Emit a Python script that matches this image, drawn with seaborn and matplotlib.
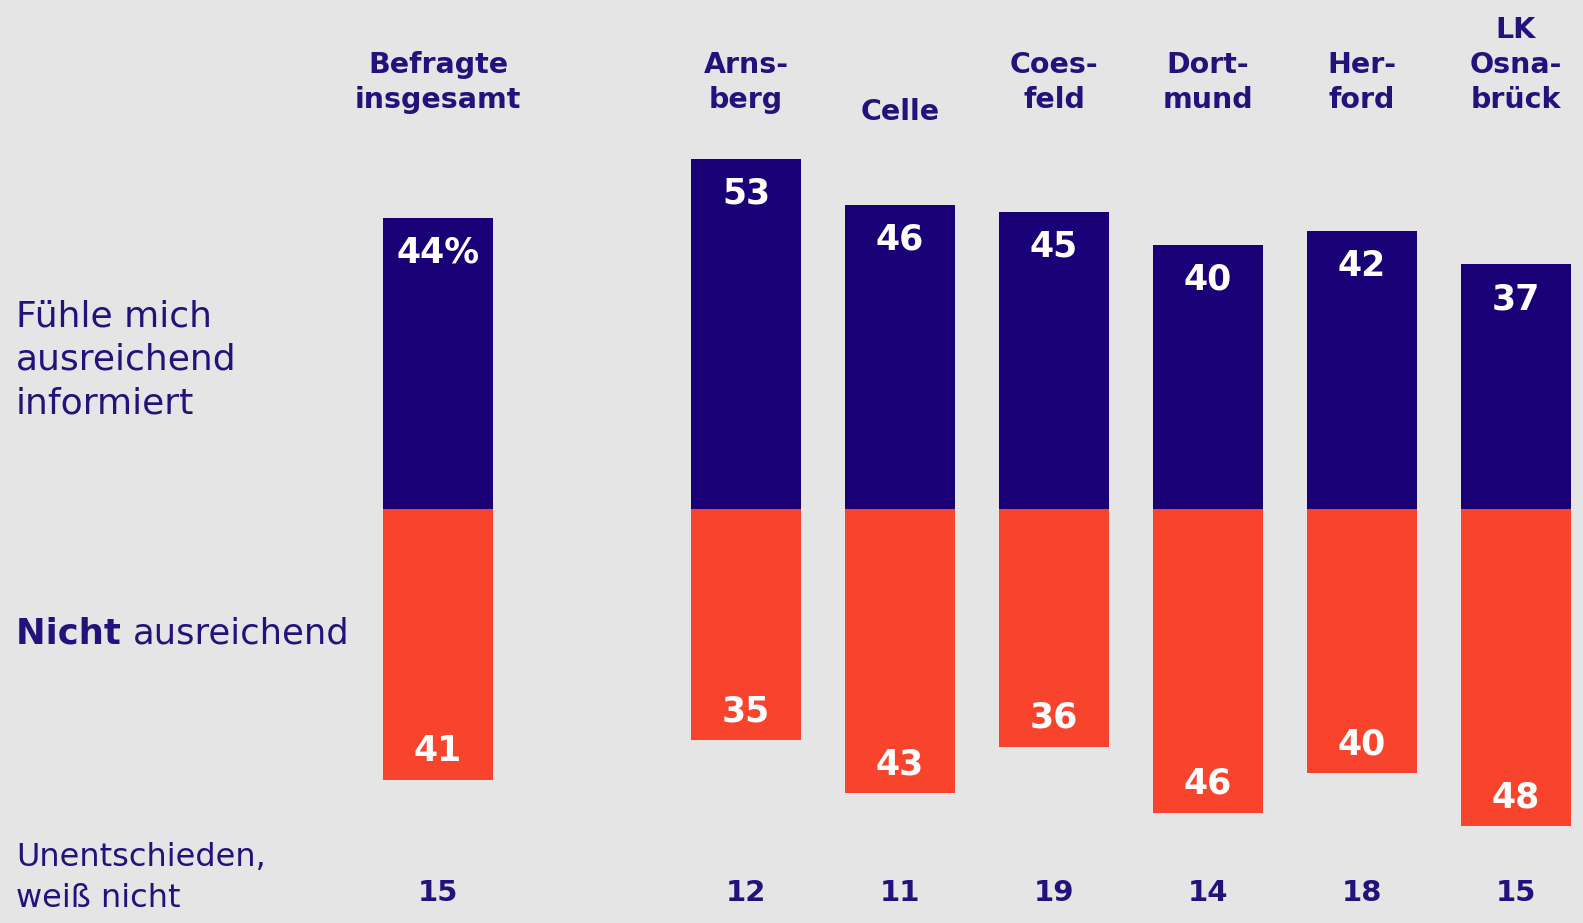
import matplotlib
matplotlib.use("Agg")
import matplotlib.pyplot as plt
import matplotlib.transforms as mtransforms
import seaborn as sns

# Data
regions = ["Befragte\ninsgesamt", "Arns-\nberg", "Celle", "Coes-\nfeld",
           "Dort-\nmund", "Her-\nford", "LK\nOsna-\nbrück"]
informed = [44, 53, 46, 45, 40, 42, 37]
not_informed = [41, 35, 43, 36, 46, 40, 48]
undecided = [15, 12, 11, 19, 14, 18, 15]
informed_labels = ["44%", "53", "46", "45", "40", "42", "37"]

# layout: gap after the total column
x_pos = [0] + list(range(2, 2 + len(regions) - 1))

navy = "#1a0076"
red = "#f8432d"
bg = "#e5e5e5"
text_navy = "#24127c"

sns.set_style("white")
plt.rcParams["font.family"] = ["DejaVu Sans"]

fig = plt.figure(figsize=(15.83, 9.23), dpi=100, facecolor=bg)
ax = fig.add_axes([0, 0, 1, 1])
ax.set_facecolor(bg)

sns.barplot(x=x_pos, y=informed, native_scale=True, width=0.72, color=navy,
            saturation=1, errorbar=None, linewidth=0, ax=ax)
sns.barplot(x=x_pos, y=[-v for v in not_informed], native_scale=True, width=0.72,
            color=red, saturation=1, errorbar=None, linewidth=0, ax=ax)

ax.set_xlim(-438 / 154, (1583 - 438) / 154)
ax.set_ylim(-(923 - 509) / 6.61, 509 / 6.61)
ax.axis("off")

trans = mtransforms.blended_transform_factory(ax.transData, ax.transAxes)

for x, name, inf, lab, ninf, und in zip(x_pos, regions, informed, informed_labels,
                                        not_informed, undecided):
    # value labels inside bars
    ax.annotate(lab, xy=(x, inf), xytext=(0, -25), textcoords="offset points",
                ha="center", va="center", color="white", fontsize=25, fontweight="bold")
    ax.annotate(str(ninf), xy=(x, -ninf), xytext=(0, 21), textcoords="offset points",
                ha="center", va="center", color="white", fontsize=25, fontweight="bold")
    # region names on top
    y_top = 0.864 if "\n" not in name else 0.876
    ax.text(x, y_top, name, transform=trans, ha="center", va="bottom",
            color=text_navy, fontsize=20.5, fontweight="bold", linespacing=1.33)
    # undecided row
    ax.text(x, 0.032, str(und), transform=trans, ha="center", va="center",
            color=text_navy, fontsize=21, fontweight="bold")

# left side labels
ax.text(0.010, 0.61, "Fühle mich\nausreichend\ninformiert", transform=ax.transAxes,
        ha="left", va="center", color=text_navy, fontsize=26, linespacing=1.36)
t1 = ax.text(0.010, 0.314, "Nicht ", transform=ax.transAxes, ha="left",
             va="center", color=text_navy, fontsize=25.5, fontweight="bold")
ax.annotate("ausreichend", xy=(1, 0.5), xycoords=t1, ha="left", va="center",
            color=text_navy, fontsize=25.5)
ax.text(0.010, 0.049, "Unentschieden,\nweiß nicht", transform=ax.transAxes,
        ha="left", va="center", color=text_navy, fontsize=23, linespacing=1.4)

fig.savefig("out.png", dpi=100, facecolor=bg)
